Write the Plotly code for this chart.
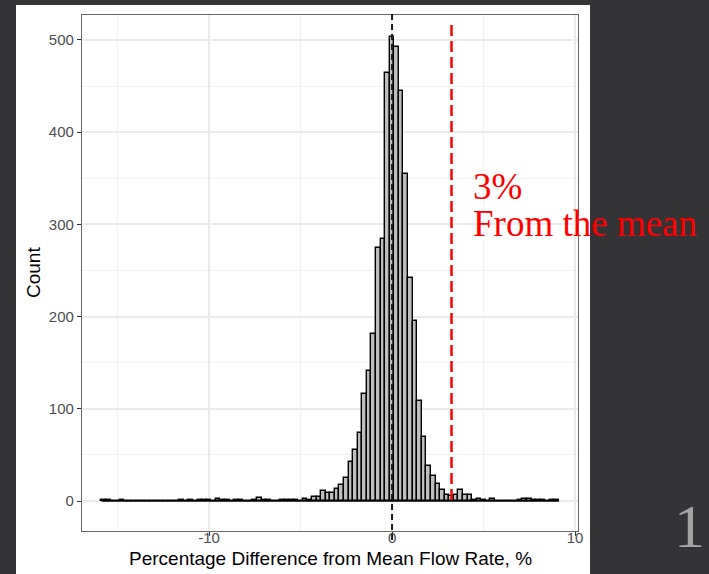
import plotly.graph_objects as go

# Histogram of percentage deviation from the mean flow rate (bins of 0.25 %)
bin_width = 0.25
first_bin_center = -15.75
counts = [
    1, 1, 0, 0, 1, 0, 0, 0, 0, 0,          # -15.75 .. -13.50
    0, 0, 0, 0, 0, 0, 0, 1, 0, 1,          # -13.25 .. -11.00
    0, 1, 1, 1, 0, 2, 1, 1, 0, 1,          # -10.75 .. -8.50
    1, 0, 0, 1, 3, 1, 1, 0, 0, 1,          # -8.25 .. -6.00
    1, 1, 1, 0, 2, 1, 4, 4, 11, 9,         # -5.75 .. -3.50
    9, 13, 17, 25, 42, 55, 74, 116, 141, 181,   # -3.25 .. -1.00
    274, 284, 464, 503, 492, 445, 355, 242, 195, 109,  # -0.75 .. 1.50
    69, 38, 27, 18, 12, 6, 5, 6, 12, 7,    # 1.75 .. 4.00
    6, 1, 2, 1, 0, 2, 0, 0, 0, 0,          # 4.25 .. 6.50
    0, 1, 2, 2, 1, 1, 1, 0, 1, 1,          # 6.75 .. 9.00
]
bin_centers = [first_bin_center + i * bin_width for i in range(len(counts))]

mean_line = 0.0
threshold_line = 3.25

x_ticks = [-10, 0, 10]
y_ticks = [0, 100, 200, 300, 400, 500]
x_range = [-16.94, 10.16]
y_range = [-32.5, 527.0]

# plot-area box in page pixels
L, R, T, B = 82, 578, 15, 531
W, H = 709, 574


def px(x):
    return (x - L) / (R - L)


def py(y):
    return (B - y) / (B - T)


fig = go.Figure()

# zero-count bins still show their outline along the baseline
fig.add_trace(go.Scatter(
    x=[bin_centers[0] - bin_width / 2, bin_centers[-1] + bin_width / 2],
    y=[0, 0], mode="lines", line=dict(color="black", width=1.6),
    hoverinfo="skip", showlegend=False,
))

fig.add_trace(go.Bar(
    x=bin_centers, y=counts, width=bin_width,
    marker=dict(color="#BEBEBE", line=dict(color="black", width=1.4)),
    showlegend=False,
))

shapes = [
    # white card behind the chart
    dict(type="rect", xref="paper", yref="paper",
         x0=px(16), x1=px(590), y0=py(574), y1=py(5),
         fillcolor="white", line=dict(width=0), layer="below"),
    # mean line
    dict(type="line", xref="x", yref="paper",
         x0=mean_line, x1=mean_line, y0=py(540), y1=py(12),
         line=dict(color="#1a1a1a", width=2, dash="6px,4px")),
    # threshold line
    dict(type="line", xref="x", yref="paper",
         x0=threshold_line, x1=threshold_line, y0=py(500), y1=py(20),
         line=dict(color="#FF0000", width=2.5, dash="11px,5px")),
]

axis_common = dict(
    showline=True, linecolor="#666666", linewidth=1.2, mirror=True,
    ticks="outside", ticklen=4, tickwidth=1.2, tickcolor="#333333",
    tickfont=dict(family="Liberation Sans, Arial, sans-serif", size=15, color="#4D4D4D"),
    showgrid=True, gridcolor="#EBEBEB", gridwidth=1.5,
    zeroline=False,
)

note_span = "<span style='font-size:37px'>{}</span>"

fig.update_layout(
    width=W, height=H,
    margin=dict(l=L, r=W - R, t=T, b=H - B, pad=0),
    paper_bgcolor="#343436",
    plot_bgcolor="white",
    bargap=0,
    shapes=shapes,
    xaxis=dict(range=x_range, tickvals=x_ticks, ticktext=[str(v) for v in x_ticks],
               ticklabelstandoff=-11,
               minor=dict(dtick=5, tick0=0, showgrid=True, gridcolor="#F2F2F2", gridwidth=1, ticks=""),
               **axis_common),
    yaxis=dict(range=y_range, tickvals=y_ticks, ticktext=[str(v) for v in y_ticks],
               minor=dict(dtick=50, tick0=0, showgrid=True, gridcolor="#F2F2F2", gridwidth=1, ticks=""),
               **axis_common),
    annotations=[
        dict(text="Percentage Difference from Mean Flow Rate, %", xref="paper", yref="paper",
             x=px(330), y=py(558), xanchor="center", yanchor="middle", showarrow=False,
             font=dict(family="Liberation Sans, Arial, sans-serif", size=19, color="black")),
        dict(text="Count", xref="paper", yref="paper", textangle=-90,
             x=px(33), y=py(273), xanchor="center", yanchor="middle", showarrow=False,
             font=dict(family="Liberation Sans, Arial, sans-serif", size=19, color="black")),
        dict(text=note_span.format("3%") + "<br>" + note_span.format("From the mean"),
             xref="paper", yref="paper", align="left",
             x=px(471), y=py(205), xanchor="left", yanchor="middle", showarrow=False,
             font=dict(family="Liberation Serif, Times New Roman, serif", size=28.5, color="#FF0000")),
        dict(text="1", xref="paper", yref="paper",
             x=px(707), y=py(526), xanchor="right", yanchor="middle", showarrow=False,
             font=dict(family="Liberation Serif, Times New Roman, serif", size=62, color="#A3A3A3")),
    ],
)

fig.write_html("out.html")
